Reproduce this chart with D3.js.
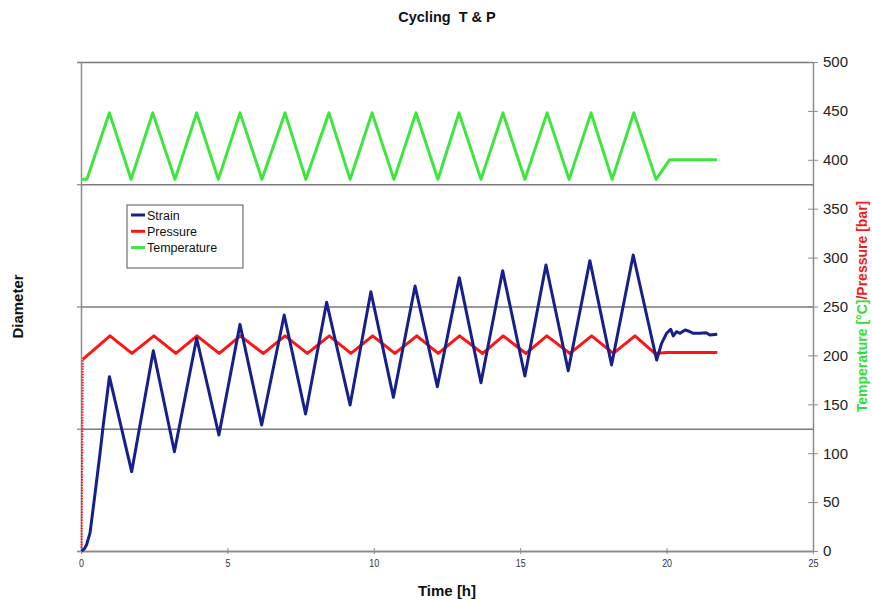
<!DOCTYPE html>
<html>
<head>
<meta charset="utf-8">
<script src="https://cdn.jsdelivr.net/npm/d3@7"></script>
<style>
  body { margin: 0; background: #fff; }
  svg { display: block; font-family: "Liberation Sans", Arial, sans-serif; }
</style>
</head>
<body>
<svg id="chart" width="872" height="602"></svg>
<script>
// Temperature programme [°C] against time [h]
const tempTime = [0, 0.2, 0.97, 1.71, 2.45, 3.21, 3.95, 4.69, 5.43, 6.18, 6.97, 7.68, 8.47, 9.19,
  9.94, 10.69, 11.44, 12.19, 12.91, 13.66, 14.41, 15.16, 15.92, 16.67, 17.42, 18.14, 18.88, 19.64, 20.1, 21.72];
const tempValue = [380, 380, 448, 380, 448, 380, 448, 380, 448, 380, 448, 380, 448, 380,
  448, 380, 448, 380, 448, 380, 448, 380, 448, 380, 448, 380, 448, 380, 400, 400];

// Pressure programme [bar] against time [h]
const pressTime = [0.02, 0.06, 0.99, 1.74, 2.49, 3.24, 3.96, 4.72, 5.44, 6.23, 6.97, 7.73, 8.48, 9.22,
  9.96, 10.72, 11.47, 12.2, 12.93, 13.72, 14.42, 15.2, 15.91, 16.7, 17.44, 18.18, 18.92, 19.6, 20.0, 21.73];
const pressValue = [3, 196, 220, 202, 220, 202, 220, 202, 220, 202, 220, 202, 220, 202,
  220, 202, 220, 202, 220, 202, 220, 202, 220, 202, 220, 202, 220, 202, 203, 203];

// Measured diameter (strain) against time [h]
const strainTime = [0.02, 0.12, 0.19, 0.31, 0.48, 0.65, 0.76, 0.90, 0.97,
  1.73, 2.47, 3.19, 3.95, 4.71, 5.43, 6.17, 6.94, 7.67, 8.39, 9.19, 9.90, 10.67, 11.41, 12.17,
  12.92, 13.66, 14.40, 15.16, 15.88, 16.64, 17.38, 18.12, 18.86, 19.66,
  19.83, 20.0, 20.14, 20.23, 20.34, 20.46, 20.63, 20.74, 20.91, 21.14, 21.35, 21.48, 21.73];
const strainValue = [0, 0.02, 0.05, 0.15, 0.47, 0.80, 1.03, 1.29, 1.426,
  0.649, 1.638, 0.812, 1.740, 0.949, 1.854, 1.031, 1.930, 1.121, 2.034, 1.194, 2.121, 1.257, 2.168, 1.344,
  2.236, 1.377, 2.293, 1.431, 2.339, 1.475, 2.375, 1.521, 2.421, 1.562,
  1.699, 1.781, 1.813, 1.759, 1.794, 1.781, 1.808, 1.800, 1.781, 1.781, 1.786, 1.767, 1.773];

const xTicks = [0, 5, 10, 15, 20, 25];
const rightTicks = [0, 50, 100, 150, 200, 250, 300, 350, 400, 450, 500];
const leftTicks = [0, 1, 2, 3, 4];

const colors = { strain: "#17208a", pressure: "#ff1414", temperature: "#3de63d" };
const legendItems = [
  { name: "Strain", color: colors.strain },
  { name: "Pressure", color: colors.pressure },
  { name: "Temperature", color: colors.temperature }
];

const W = 872, H = 602;
const m = { top: 62, right: 59, bottom: 51, left: 81 };
const svg = d3.select("#chart");

const x = d3.scaleLinear().domain([0, 25]).range([m.left, W - m.right]);
const yR = d3.scaleLinear().domain([0, 500]).range([H - m.bottom, m.top]);
const yL = d3.scaleLinear().domain([0, 4]).range([H - m.bottom, m.top]);

// horizontal gridlines from the diameter axis
svg.append("g")
  .attr("transform", `translate(${m.left},0)`)
  .call(d3.axisLeft(yL).tickValues(leftTicks).tickSize(-(W - m.left - m.right)).tickFormat(""))
  .call(g => g.select(".domain").remove())
  .call(g => g.selectAll("line").attr("stroke", "#7a7a7a").attr("stroke-width", 1.3));

// short outward ticks on the diameter axis
svg.append("g")
  .attr("transform", `translate(${m.left},0)`)
  .call(d3.axisLeft(yL).tickValues(leftTicks).tickSize(4).tickFormat(""))
  .call(g => g.select(".domain").attr("stroke", "#8c8c8c").attr("stroke-width", 1.5))
  .call(g => g.selectAll("line").attr("stroke", "#8c8c8c").attr("stroke-width", 1.3));

// time axis
const xAxis = svg.append("g")
  .attr("transform", `translate(0,${H - m.bottom})`)
  .call(d3.axisBottom(x).tickValues(xTicks).tickSize(3).tickSizeOuter(0).tickPadding(6))
  .call(g => g.select(".domain").attr("stroke", "#8c8c8c").attr("stroke-width", 1.5))
  .call(g => g.selectAll(".tick line").attr("stroke", "#8c8c8c").attr("y1", -3));
xAxis.selectAll(".tick text")
  .attr("font-size", 10.5).attr("fill", "#333")
  .attr("font-family", "'Liberation Sans', Arial, sans-serif")
  .attr("transform", "scale(0.85,1)")
  .attr("x", 0);

// temperature / pressure axis
const rAxis = svg.append("g")
  .attr("transform", `translate(${W - m.right},0)`)
  .call(d3.axisRight(yR).tickValues(rightTicks).tickSize(5).tickSizeOuter(0).tickPadding(5))
  .call(g => g.select(".domain").attr("stroke", "#8c8c8c").attr("stroke-width", 1.5))
  .call(g => g.selectAll(".tick line").attr("stroke", "#8c8c8c").attr("x1", -5));
rAxis.selectAll(".tick text")
  .attr("font-size", 15).attr("fill", "#222")
  .attr("font-family", "'Liberation Sans', Arial, sans-serif");

// series
const line = (ys) => d3.line().x(d => x(d[0])).y(d => ys(d[1]));
const tempData = d3.zip(tempTime, tempValue);
const pressData = d3.zip(pressTime, pressValue);
const strainData = d3.zip(strainTime, strainValue);

svg.append("path").datum(tempData)
  .attr("d", line(yR)).attr("fill", "none")
  .attr("stroke", colors.temperature).attr("stroke-width", 3).attr("stroke-linejoin", "round");

// pressure ramp-up is logged sparsely, shown dotted
svg.append("path").datum(pressData.slice(0, 2))
  .attr("d", line(yR)).attr("fill", "none")
  .attr("stroke", colors.pressure).attr("stroke-width", 2).attr("stroke-dasharray", "1.5,1.2");
svg.append("path").datum(pressData.slice(1))
  .attr("d", line(yR)).attr("fill", "none")
  .attr("stroke", colors.pressure).attr("stroke-width", 3).attr("stroke-linejoin", "round");

svg.append("path").datum(strainData)
  .attr("d", line(yL)).attr("fill", "none")
  .attr("stroke", colors.strain).attr("stroke-width", 3).attr("stroke-linejoin", "round");

// legend
const lg = svg.append("g").attr("transform", "translate(127,205)");
lg.append("rect").attr("width", 116).attr("height", 63)
  .attr("fill", "#fff").attr("stroke", "#555").attr("stroke-width", 1);
legendItems.forEach((d, i) => {
  const yy = 10 + i * 16.3;
  lg.append("line").attr("x1", 4).attr("x2", 18).attr("y1", yy).attr("y2", yy)
    .attr("stroke", d.color).attr("stroke-width", 3);
  lg.append("text").attr("x", 20).attr("y", yy + 4.5)
    .attr("font-size", 12.5).attr("fill", "#111").text(d.name);
});

// titles
svg.append("text").attr("x", (m.left + W - m.right) / 2).attr("y", 22)
  .attr("text-anchor", "middle").attr("font-size", 14.5).attr("font-weight", "bold")
  .attr("fill", "#111").attr("xml:space", "preserve").text("Cycling  T & P");

svg.append("text").attr("x", (m.left + W - m.right) / 2).attr("y", 596)
  .attr("text-anchor", "middle").attr("font-size", 15).attr("font-weight", "bold")
  .attr("fill", "#111").text("Time [h]");

svg.append("text")
  .attr("transform", `translate(23,${(m.top + H - m.bottom) / 2}) rotate(-90)`)
  .attr("text-anchor", "middle").attr("font-size", 15).attr("font-weight", "bold")
  .attr("fill", "#111").text("Diameter");

const rt = svg.append("text")
  .attr("transform", `translate(867,${(m.top + H - m.bottom) / 2}) rotate(-90)`)
  .attr("text-anchor", "middle").attr("font-size", 14).attr("font-weight", "bold");
rt.append("tspan").attr("fill", "#33dd33").text("Temperature [°C]");
rt.append("tspan").attr("fill", "#ee1c1c").text("/Pressure [bar]");
</script>
</body>
</html>
